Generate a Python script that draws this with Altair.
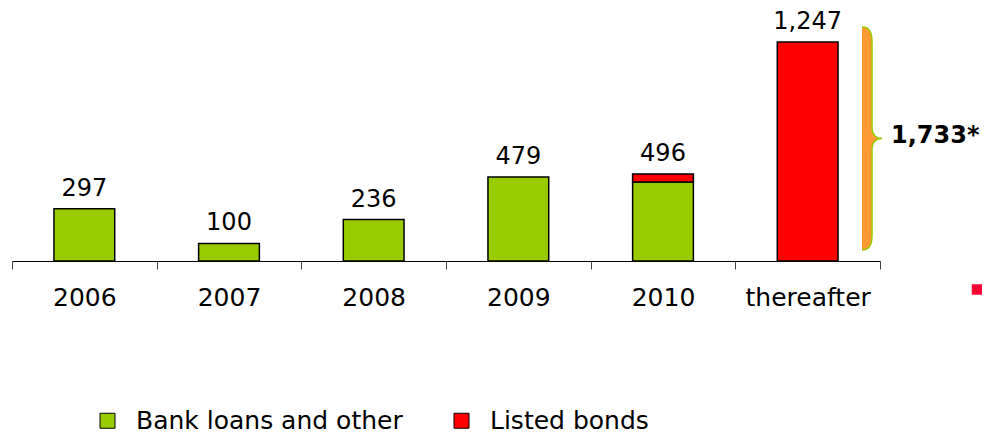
import altair as alt
import pandas as pd

categories = ["2006", "2007", "2008", "2009", "2010", "thereafter"]
bank_loans = [297, 100, 236, 479, 450, 0]
listed_bonds = [0, 0, 0, 0, 46, 1247]
series_names = ["Bank loans and other", "Listed bonds"]
series_colors = ["#99CC00", "#FF0000"]
brace_label = "1,733*"

FONT = "DejaVu Sans"

rows = []
for i, c in enumerate(categories):
    for order, (name, vals) in enumerate(zip(series_names, [bank_loans, listed_bonds])):
        if vals[i] > 0:
            rows.append({"category": c, "series": name, "value": vals[i], "order": order})
df = pd.DataFrame(rows)

totals = pd.DataFrame({
    "category": categories,
    "total": [b + l for b, l in zip(bank_loans, listed_bonds)],
})

yscale = alt.Scale(domain=[0, 1441], nice=False, zero=True)
xscale = alt.Scale(paddingInner=0, paddingOuter=0)

bars = alt.Chart(df).mark_bar(
    width={"band": 0.42}, stroke="black", strokeWidth=1.5
).encode(
    x=alt.X("category:N", sort=categories, scale=xscale,
            axis=alt.Axis(title=None, labelFontSize=25, labelFont=FONT,
                          labelColor="black", labelAngle=0, tickBand="extent",
                          tickSize=8, tickColor="#444", domainColor="black",
                          domainWidth=1, labelPadding=36,
                          labelBaseline="alphabetic", grid=False)),
    y=alt.Y("sum(value):Q", scale=yscale, axis=None, stack="zero"),
    color=alt.Color("series:N", scale=alt.Scale(domain=series_names, range=series_colors),
                    legend=alt.Legend(orient="none", legendX=83, legendY=400,
                                      direction="horizontal", title=None,
                                      labelFontSize=25, labelFont=FONT,
                                      labelColor="black", labelLimit=0,
                                      symbolType="square",
                                      symbolSize=225, symbolStrokeColor="black",
                                      symbolStrokeWidth=1, labelOffset=16,
                                      columnPadding=46, padding=0)),
    order=alt.Order("order:Q"),
)

labels = alt.Chart(totals).mark_text(
    dy=-13, baseline="alphabetic", fontSize=24, font=FONT, color="black"
).encode(
    x=alt.X("category:N", sort=categories, scale=xscale),
    y=alt.Y("total:Q", scale=yscale),
    text=alt.Text("total:Q", format=","),
)

brace_fill_path = ("M0,-1 C0.07,-1 0.09,-0.95 0.09,-0.86 L0.09,-0.09 "
                   "C0.09,-0.03 0.13,0 0.18,0 C0.13,0 0.09,0.03 0.09,0.09 "
                   "L0.09,0.86 C0.09,0.95 0.07,1 0,1 Z")
brace_line_path = ("M0,-1 C0.07,-1 0.09,-0.95 0.09,-0.86 L0.09,-0.09 "
                   "C0.09,-0.03 0.13,0 0.18,0 C0.13,0 0.09,0.03 0.09,0.09 "
                   "L0.09,0.86 C0.09,0.95 0.07,1 0,1")

anno = pd.DataFrame({"label": [brace_label]})

brace_fill = alt.Chart(anno).mark_point(
    shape=brace_fill_path, size=49729, filled=True, fill="#FF9933",
    strokeWidth=0, opacity=1
).encode(x=alt.value(850), y=alt.value(130.5))

brace_line = alt.Chart(anno).mark_point(
    shape=brace_line_path, size=49729, filled=False, stroke="#99CC00",
    strokeWidth=1.5, opacity=1
).encode(x=alt.value(850), y=alt.value(130.5))

brace_text = alt.Chart(anno).mark_text(
    align="left", baseline="alphabetic", fontSize=24, fontWeight="bold",
    font=FONT, color="black"
).encode(x=alt.value(879), y=alt.value(135), text="label:N")

bullet = alt.Chart(anno).mark_square(
    size=110, color="#FF0033", opacity=1, filled=True
).encode(x=alt.value(965), y=alt.value(281.5))

chart = alt.layer(bars, labels, brace_fill, brace_line, brace_text, bullet).properties(
    width=868, height=253,
    padding={"left": 4, "top": 0, "right": 102, "bottom": 173},
    autosize="none",
).configure_view(stroke=None)

chart.save("out.html", embed_options={"renderer": "svg", "actions": False})
